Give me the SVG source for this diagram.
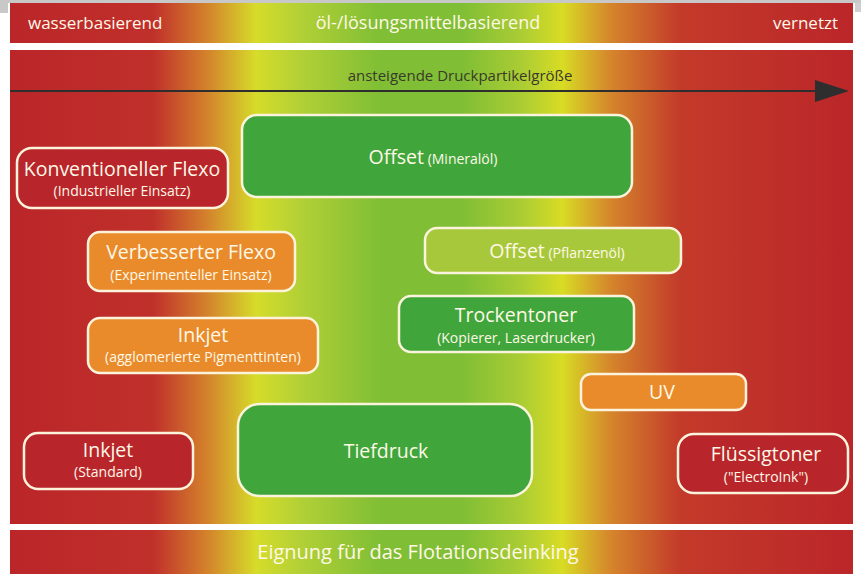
<svg xmlns="http://www.w3.org/2000/svg" width="861" height="574" viewBox="0 0 861 574">
<defs>
<linearGradient id="bg" gradientUnits="userSpaceOnUse" x1="10" y1="0" x2="853" y2="0">
<stop offset="0" stop-color="#bb2629"/>
<stop offset="0.17" stop-color="#c0302b"/>
<stop offset="0.235" stop-color="#d4842c"/>
<stop offset="0.292" stop-color="#d6dc2a"/>
<stop offset="0.345" stop-color="#b2d036"/>
<stop offset="0.44" stop-color="#7fbe35"/>
<stop offset="0.535" stop-color="#7fbe35"/>
<stop offset="0.605" stop-color="#a9cc34"/>
<stop offset="0.655" stop-color="#d8dc24"/>
<stop offset="0.712" stop-color="#d5862c"/>
<stop offset="0.795" stop-color="#c33a2a"/>
<stop offset="1" stop-color="#bb2629"/>
</linearGradient>
<marker id="ah" viewBox="0 0 34 22" refX="0" refY="11" markerWidth="34" markerHeight="22" markerUnits="userSpaceOnUse" orient="auto">
<path d="M0,0 L34,11 L0,22 Z" fill="#2e2e2e"/>
</marker>
<style>
.box{stroke:#fbf3dc;stroke-width:2.5}
.red{fill:#b8252b}
.org{fill:#e98b2b}
.grn{fill:#40a63b}
.lgr{fill:#a8c83c}
text{font-family:"Open Sans","Noto Sans","DejaVu Sans",sans-serif;fill:#fff8e6;text-anchor:middle}
.big{font-size:19.5px}
.sm{font-size:14px}
.hd{font-size:17px}
</style>
</defs>
<rect x="0" y="0" width="861" height="574" fill="#ffffff"/>
<rect x="0" y="0" width="861" height="3" fill="#c8c8c8"/>
<rect x="0" y="0" width="8" height="13" fill="#c8c8c8"/>
<rect x="855" y="3" width="6" height="9" fill="#d0d0d0"/>
<rect x="10" y="3" width="843" height="40" fill="url(#bg)"/>
<rect x="10" y="50" width="843" height="474" fill="url(#bg)"/>
<rect x="10" y="530" width="843" height="44" fill="url(#bg)"/>
<g id="header">
<text class="hd" x="28" y="29" style="text-anchor:start">wasserbasierend</text>
<text class="hd" x="428" y="29" style="font-size:18px">öl-/lösungsmittelbasierend</text>
<text class="hd" x="838" y="29" style="text-anchor:end">vernetzt</text>
</g>
<g id="connectors">
<line x1="10" y1="91" x2="815" y2="91" stroke="#2e2e2e" stroke-width="2.2" marker-end="url(#ah)"/>
<text x="460" y="81" style="font-size:15px;fill:#3a3a2a">ansteigende Druckpartikelgröße</text>
</g>
<g id="offset-mineraloel">
<rect class="box grn" x="242" y="115" width="390" height="82" rx="15"/>
<text x="433" y="164"><tspan class="big">Offset</tspan><tspan class="sm"> (Mineralöl)</tspan></text>
</g>
<g id="konv-flexo">
<rect class="box red" x="17" y="148" width="211" height="60" rx="15"/>
<text class="big" x="122" y="176">Konventioneller Flexo</text>
<text class="sm" x="122" y="196">(Industrieller Einsatz)</text>
</g>
<g id="verb-flexo">
<rect class="box org" x="88" y="232" width="207" height="59" rx="12"/>
<text class="big" x="191" y="259">Verbesserter Flexo</text>
<text class="sm" x="191" y="280">(Experimenteller Einsatz)</text>
</g>
<g id="offset-pflanzenoel">
<rect class="box lgr" x="425" y="228" width="256" height="45" rx="12"/>
<text x="557" y="258"><tspan class="big">Offset</tspan><tspan class="sm"> (Pflanzenöl)</tspan></text>
</g>
<g id="inkjet-aggl">
<rect class="box org" x="88" y="318" width="230" height="55" rx="12"/>
<text class="big" x="203" y="342">Inkjet</text>
<text class="sm" x="203" y="362">(agglomerierte Pigmenttinten)</text>
</g>
<g id="trockentoner">
<rect class="box grn" x="399" y="296" width="235" height="56" rx="12"/>
<text class="big" x="516" y="322">Trockentoner</text>
<text class="sm" x="516" y="343">(Kopierer, Laserdrucker)</text>
</g>
<g id="uv">
<rect class="box org" x="581" y="374" width="165" height="36" rx="10"/>
<text class="big" x="662" y="399">UV</text>
</g>
<g id="inkjet-standard">
<rect class="box red" x="24" y="433" width="169" height="56" rx="14"/>
<text class="big" x="108" y="457">Inkjet</text>
<text class="sm" x="108" y="477">(Standard)</text>
</g>
<g id="tiefdruck">
<rect class="box grn" x="238" y="404" width="294" height="92" rx="22"/>
<text class="big" x="386" y="458">Tiefdruck</text>
</g>
<g id="fluessigtoner">
<rect class="box red" x="678" y="434" width="170" height="59" rx="16"/>
<text class="big" x="766" y="461">Flüssigtoner</text>
<text class="sm" x="766" y="482">("ElectroInk")</text>
</g>
<g id="footer">
<text x="418" y="559" style="font-size:20px">Eignung für das Flotationsdeinking</text>
</g>
</svg>
